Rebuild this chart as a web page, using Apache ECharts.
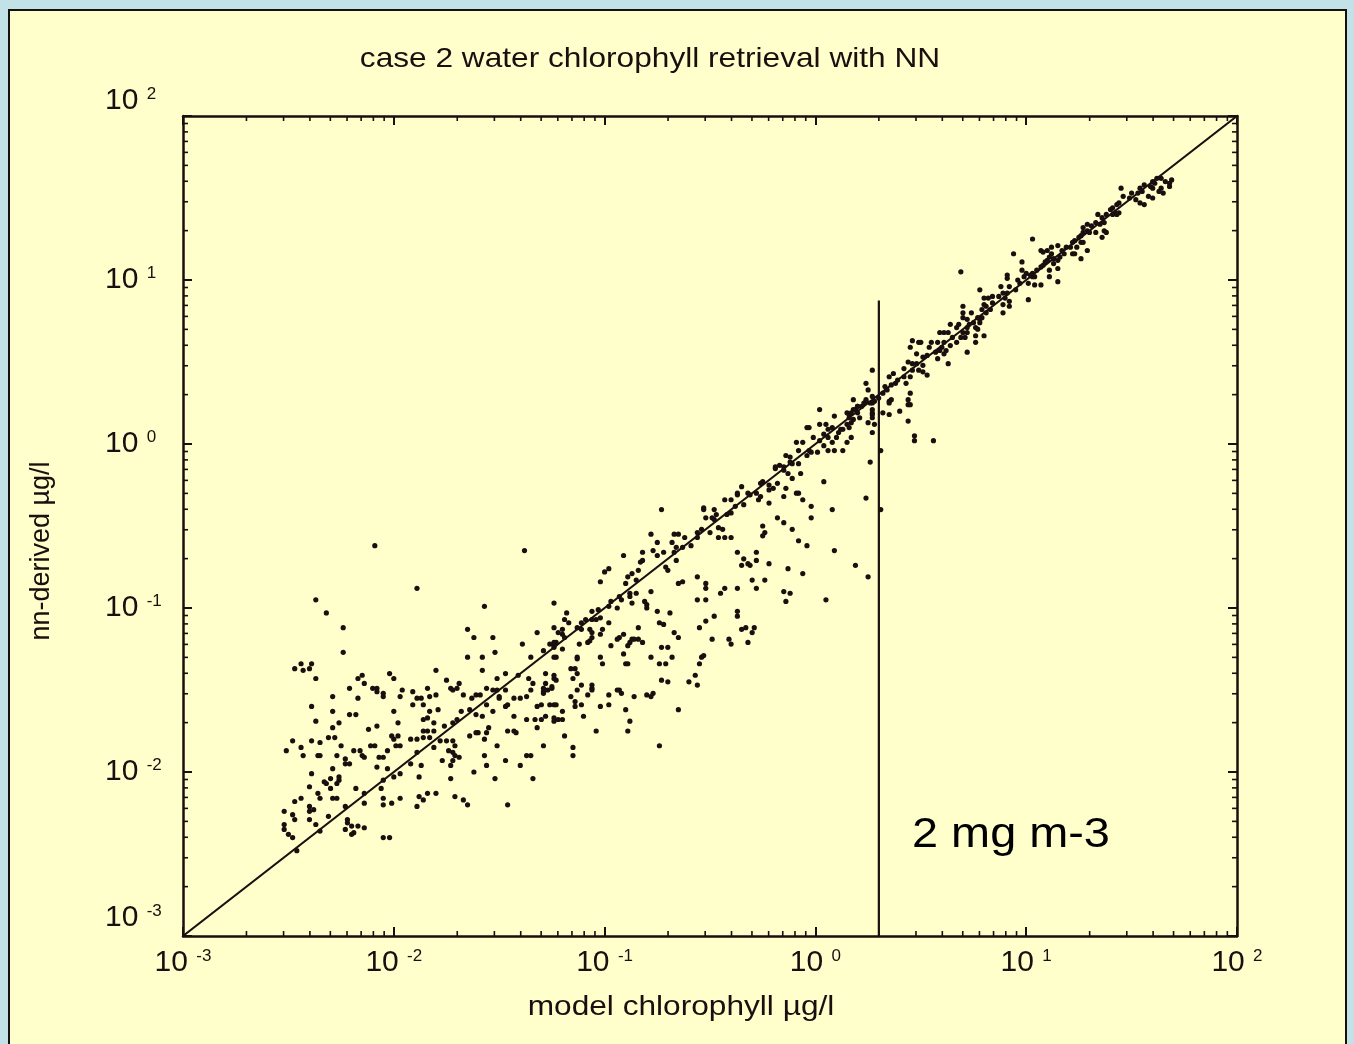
<!DOCTYPE html>
<html>
<head>
<meta charset="utf-8">
<script src="https://cdn.jsdelivr.net/npm/echarts@6/dist/echarts.min.js"></script>
<style>
html,body{margin:0;padding:0;background:#c2e2e8;}
#c{width:1354px;height:1044px;}
</style>
</head>
<body>
<div id="c"></div>
<script>
// ---------- texts ----------
const titleText = 'case 2 water chlorophyll retrieval with NN';
const xAxisName = 'model chlorophyll µg/l';
const yAxisName = 'nn-derived µg/l';
const annotationText = '2 mg m-3';

// ---------- axes ----------
const axisMin = 0.001;
const axisMax = 100;
const decadeExponents = ['-3', '-2', '-1', '0', '1', '2'];
const minorTickValues = [
  0.002, 0.003, 0.004, 0.005, 0.006, 0.007, 0.008, 0.009,
  0.02, 0.03, 0.04, 0.05, 0.06, 0.07, 0.08, 0.09,
  0.2, 0.3, 0.4, 0.5, 0.6, 0.7, 0.8, 0.9,
  2, 3, 4, 5, 6, 7, 8, 9,
  20, 30, 40, 50, 60, 70, 80, 90
];

// ---------- reference lines ----------
const identityLine = [[0.001, 0.001], [100, 100]];
const thresholdLine = [[2, 0.001], [2, 7.5]];

// ---------- data: [log10(model chl), log10(nn-derived chl)] ----------
const lowCloudLog = [
[-2.37,-0.95],[-2.32,-1.03],[-2.24,-1.12],[-2.24,-1.27],[-1.57,-0.99],[-1.24,-0.97],
[-2.44,-1.34],[-2.39,-1.34],[-2.47,-1.37],[-2.43,-1.38],[-2.40,-1.37],[-2.37,-1.43],
[-1.65,-1.13],[-1.62,-1.18],[-1.53,-1.18],[-1.52,-1.27],[-1.65,-1.30],[-1.58,-1.30],[-1.58,-1.38],
[-1.39,-1.22],[-1.32,-1.15],[-1.24,-1.12],[-1.24,-1.21],[-1.26,-1.22],[-1.29,-1.26],[-1.35,-1.30],
[-1.80,-1.38],[-2.02,-1.40],[-2.00,-1.43],[-2.15,-1.41],[-2.17,-1.43],[-2.21,-1.49],[-2.14,-1.46],
[-2.10,-1.49],[-2.08,-1.49],[-2.08,-1.51],[-2.05,-1.52],[-2.05,-1.54],[-1.96,-1.50],[-1.91,-1.51],
[-1.97,-1.54],[-2.29,-1.54],[-2.17,-1.55],[-1.89,-1.55],[-1.87,-1.55],[-1.91,-1.59],[-1.86,-1.59],
[-1.83,-1.54],[-1.80,-1.53],[-1.84,-1.49],[-1.73,-1.49],[-1.72,-1.50],[-1.75,-1.44],[-1.69,-1.46],
[-1.70,-1.49],[-1.67,-1.53],[-1.63,-1.55],[-1.61,-1.53],[-1.59,-1.53],[-1.56,-1.49],[-1.51,-1.43],
[-1.47,-1.40],[-1.41,-1.41],[-1.51,-1.50],[-1.50,-1.54],[-1.53,-1.50],[-1.47,-1.50],[-1.43,-1.55],
[-1.40,-1.55],[-1.37,-1.54],[-1.34,-1.46],[-1.36,-1.43],[-1.35,-1.50],[-1.29,-1.49],[-1.28,-1.46],
[-1.25,-1.49],[-1.24,-1.43],[-1.28,-1.40],[-1.32,-1.60],[-1.29,-1.51],[-1.26,-1.59],[-1.24,-1.59],
[-1.30,-1.59],[-1.24,-1.67],[-1.28,-1.66],[-1.33,-1.68],[-1.37,-1.68],[-1.43,-1.66],[-1.47,-1.60],
[-1.46,-1.59],[-1.50,-1.55],[-1.53,-1.63],[-1.56,-1.59],[-1.58,-1.66],[-1.61,-1.65],[-1.64,-1.62],
[-1.68,-1.63],[-1.70,-1.68],[-1.76,-1.72],[-1.72,-1.70],[-1.79,-1.62],[-1.83,-1.63],[-1.84,-1.67],
[-1.86,-1.68],[-1.81,-1.70],[-1.86,-1.75],[-1.84,-1.75],[-1.81,-1.75],[-1.86,-1.79],[-1.83,-1.79],
[-1.81,-1.85],[-1.78,-1.81],[-1.75,-1.81],[-1.72,-1.81],[-1.74,-1.87],[-1.72,-1.88],[-1.71,-1.90],
[-1.69,-1.91],[-1.72,-1.93],[-1.73,-1.96],[-1.77,-1.93],[-1.89,-1.88],[-1.92,-1.95],[-1.97,-1.84],
[-2.00,-1.80],[-1.98,-1.78],[-2.01,-1.78],[-1.99,-1.84],[-2.03,-1.87],[-2.05,-1.91],[-2.07,-1.91],
[-2.08,-1.97],[-2.11,-1.84],[-2.09,-1.84],[-2.12,-1.74],[-2.08,-1.72],[-2.00,-1.63],[-1.98,-1.70],
[-1.89,-1.80],[-1.92,-1.80],[-1.87,-1.96],[-1.97,-2.01],[-2.00,-2.03],[-2.03,-1.98],[-2.05,-2.05],
[-2.06,-2.10],[-2.01,-2.19],[-2.05,-2.20],[-2.05,-2.16],[-1.97,-2.16],[-1.89,-2.21],[-1.86,-2.17],
[-1.84,-2.13],[-1.88,-2.03],[-1.80,-2.13],[-1.73,-2.04],[-1.71,-2.15],[-1.67,-2.17],[-1.65,-2.20],
[-1.62,-2.00],[-1.56,-1.96],[-1.57,-1.90],[-1.52,-2.04],[-1.47,-1.93],[-1.46,-2.20],[-1.40,-1.96],
[-1.37,-1.90],[-1.35,-1.90],[-1.34,-2.04],[-1.29,-1.84],[-1.32,-1.73],[-1.46,-1.75],[-1.43,-1.75],
[-1.42,-1.76],[-1.55,-1.73],[-1.56,-1.76],[-1.60,-1.76],[-1.61,-1.76],[-1.64,-1.78],[-1.57,-1.80],
[-1.51,-1.84],[-1.71,-1.84],[-2.16,-1.87],[-2.19,-1.87],[-2.15,-1.90],[-2.14,-1.91],[-2.27,-1.90],
[-2.36,-1.90],[-2.35,-1.90],[-2.43,-1.90],[-2.51,-1.87],[-2.48,-1.81],[-2.44,-1.85],[-2.39,-1.81],
[-2.35,-1.82],[-2.31,-1.79],[-2.28,-1.79],[-2.25,-1.84],[-2.26,-1.70],[-2.29,-1.73],[-2.37,-1.69],
[-2.39,-1.60],[-2.29,-1.63],[-2.21,-1.65],[-2.18,-1.65],[-2.23,-1.92],[-2.21,-1.95],[-2.23,-1.95],
[-2.29,-1.98],[-2.39,-2.01],[-2.26,-2.03],[-2.26,-2.05],[-2.27,-2.07],[-2.30,-2.04],[-2.33,-2.06],
[-2.32,-2.07],[-2.40,-2.09],[-2.30,-2.10],[-2.36,-2.13],[-2.35,-2.16],[-2.29,-2.16],[-2.27,-2.16],
[-2.44,-2.16],[-2.47,-2.18],[-2.40,-2.21],[-2.40,-2.24],[-2.38,-2.23],[-2.52,-2.24],[-2.48,-2.26],
[-2.47,-2.29],[-2.40,-2.29],[-2.31,-2.27],[-2.23,-2.21],[-2.18,-2.10],[-2.14,-2.13],[-2.14,-2.19],
[-2.22,-2.29],[-2.22,-2.31],[-2.20,-2.33],[-2.17,-2.33],[-2.19,-2.37],[-2.20,-2.38],[-2.23,-2.35],
[-2.14,-2.34],[-2.35,-2.36],[-2.37,-2.32],[-2.52,-2.32],[-2.52,-2.35],[-2.50,-2.38],[-2.48,-2.40],
[-2.05,-2.40],[-2.02,-2.40],[-1.88,-2.15],
[-2.46,-2.48],[-2.09,-0.62],[-1.38,-0.65],[-1.89,-0.88]
];

const midCloudLog = [
[0.02,0.21],[0.09,0.17],[0.15,0.19],[0.18,0.21],[0.20,0.23],[0.24,0.26],[0.27,0.25],[0.28,0.26],
[0.35,0.26],[0.44,0.24],[0.35,0.18],[0.40,0.20],[0.44,0.14],[0.47,0.05],[0.47,0.02],[0.56,0.02],
[0.27,0.18],[0.25,0.13],[0.28,0.12],[0.27,0.07],[0.31,-0.04],[0.26,-0.11],[0.24,-0.33],[0.31,-0.40],
[0.19,-0.74],[0.25,-0.81],[0.09,-0.65],[0.08,-0.40],[0.04,-0.23],[0.05,-0.95],
[0.16,0.18],[0.17,0.13],[0.16,0.10],[0.15,0.12],[0.13,0.09],[0.11,0.07],[0.12,0.09],[0.08,0.10],
[0.05,0.12],[0.02,0.12],[0.06,0.09],[0.04,0.06],[0.06,0.04],[0.08,0.01],[0.10,0.04],[0.15,0.01],
[0.13,-0.04],[0.09,-0.04],[0.06,-0.04],[0.04,-0.01],[0.02,0.02],[-0.01,0.04],[-0.03,0.10],[-0.04,0.10],
[-0.03,-0.04],[-0.04,-0.07],[-0.02,-0.05],[0.01,-0.05],[-0.08,-0.04],[-0.09,0.01],[-0.06,0.01],
[-0.12,-0.08],[-0.14,-0.07],[-0.12,-0.11],[-0.11,-0.12],[-0.08,-0.12],[-0.15,-0.14],[-0.17,-0.13],
[-0.19,-0.14],[-0.19,-0.15],[-0.15,-0.16],[-0.13,-0.18],[-0.11,-0.21],[-0.07,-0.18],[-0.25,-0.23],
[-0.26,-0.24],[-0.22,-0.25],[-0.20,-0.27],[-0.22,-0.28],[-0.18,-0.24],[-0.14,-0.27],[-0.09,-0.30],
[-0.08,-0.30],[-0.15,-0.32],[-0.06,-0.34],[-0.27,-0.34],[-0.26,-0.32],[-0.22,-0.36],[-0.28,-0.30],
[-0.31,-0.31],[-0.32,-0.30],[-0.35,-0.26],[-0.37,-0.31],[-0.37,-0.30],[-0.40,-0.34],[-0.34,-0.37],
[-0.38,-0.38],[-0.43,-0.34],[-0.47,-0.43],[-0.48,-0.46],[-0.49,-0.45],[-0.42,-0.43],[-0.40,-0.42],
[-0.53,-0.39],[-0.53,-0.40],[-0.52,-0.45],[-0.48,-0.40],[-0.46,-0.51],[-0.44,-0.52],[-0.43,-0.57],
[-0.40,-0.57],[-0.46,-0.57],[-0.50,-0.54],[-0.54,-0.52],[-0.56,-0.54],[-0.56,-0.57],[-0.59,-0.62],
[-0.62,-0.57],[-0.65,-0.55],[-0.67,-0.55],[-0.63,-0.63],[-0.66,-0.63],[-0.68,-0.60],[-0.67,-0.66],
[-0.66,-0.71],[-0.70,-0.77],[-0.71,-0.75],[-0.72,-0.66],[-0.75,-0.68],[-0.77,-0.65],[-0.75,-0.60],
[-0.78,-0.55],[-0.73,-0.40],[-0.82,-0.66],[-0.83,-0.72],[-0.82,-0.71],[-0.84,-0.77],[-0.87,-0.79],
[-0.85,-0.83],[-0.85,-0.91],[-0.89,-0.81],[-0.91,-0.68],[-0.90,-0.85],[-0.88,-0.91],[-0.88,-0.93],
[-0.87,-0.97],[-0.93,-0.93],[-0.92,-0.95],[-0.94,-1.00],[-0.97,-0.96],[-0.98,-0.99],[-1.00,-0.78],
[-0.98,-0.76],[-1.02,-0.84],[-1.03,-1.01],[-1.02,-1.06],[-1.04,-1.07],[-1.06,-1.07],[-1.06,-1.02],
[-1.09,-1.07],[-1.11,-1.09],[-1.13,-1.12],[-1.11,-1.13],[-1.07,-1.13],[-1.06,-1.15],[-1.06,-1.18],
[-1.08,-1.21],[-1.07,-1.20],[-1.02,-1.16],[-1.01,-1.13],[-0.98,-1.09],[-0.93,-1.18],[-0.91,-1.16],
[-0.94,-1.19],[-0.89,-1.23],[-0.88,-1.21],[-0.87,-1.19],[-0.86,-1.19],[-0.84,-1.19],[-0.82,-1.21],
[-0.84,-1.12],[-0.81,-0.96],[-0.80,-0.98],[-0.80,-1.00],[-0.91,-1.28],[-0.90,-1.34],[-0.89,-1.34],
[-0.93,-1.50],[-0.92,-1.52],[-0.86,-1.54],[-0.80,-1.53],[-0.78,-1.54],[-0.77,-1.52],[-0.78,-1.30],
[-0.74,-1.34],[-0.71,-1.34],[-0.73,-1.24],[-0.70,-1.24],[-0.74,-1.09],[-0.75,-1.02],[-0.72,-1.10],
[-0.69,-1.03],[-0.67,-1.15],[-0.65,-1.18],[-0.68,-1.30],[-0.73,-1.44],[-0.70,-1.45],[-0.60,-1.45],
[-0.57,-1.41],[-0.56,-1.47],[-0.55,-1.34],[-0.54,-1.30],[-0.53,-1.29],[-0.52,-1.08],[-0.55,-1.12],
[-0.49,-1.19],[-0.48,-1.05],[-0.41,-1.19],[-0.40,-1.22],[-0.37,-1.02],[-0.37,-1.05],[-0.35,-1.13],
[-0.33,-1.12],[-0.29,-1.12],[-0.30,-1.15],[-0.32,-1.21],[-0.25,-0.50],[-0.24,-0.54],[-0.25,-0.56],
[-0.22,-0.73],[-0.24,-0.83],[-0.28,-0.66],[-0.28,-0.71],[-0.30,-0.83],[-0.28,-0.88],[-0.34,-0.70],
[-0.35,-0.74],[-0.37,-0.66],[-0.32,-0.73],[-0.31,-0.74],[-0.37,-0.88],[-0.43,-0.88],[-0.45,-0.91],
[-0.52,-0.95],[-0.52,-0.85],[-0.52,-0.88],[-0.56,-0.81],[-0.56,-0.95],[-0.63,-0.84],[-0.65,-0.85],
[-0.78,-0.90],[-0.18,-0.45],[-0.15,-0.48],[-0.11,-0.52],[-0.08,-0.59],[-0.04,-0.62],[-0.02,-0.45],
[-0.02,-0.38],[-0.06,-0.79],[-0.13,-0.76],[-0.15,-0.90],[-0.12,-0.91],[-0.14,-0.96],
[-1.18,-1.03],[-1.19,-1.07],[-1.17,-1.09],[-1.20,-1.13],[-1.22,-1.15],[-1.20,-1.16],[-1.19,-1.18],
[-1.23,-1.21],[-1.24,-1.23],[-1.24,-1.24],[-1.20,-1.25],[-1.24,-1.30],[-1.23,-1.30],[-1.16,-1.37],
[-1.14,-1.37],[-1.13,-1.40],[-1.15,-1.43],[-1.24,-1.41],[-1.23,-1.44],[-1.25,-1.48],[-1.11,-1.47],
[-1.13,-1.50],[-1.06,-1.47],[-1.06,-1.49],[-1.08,-1.53],[-0.98,-1.53],[-1.16,-1.54],[-1.13,-1.30],
[-1.13,-1.31],[-1.12,-1.22],[-1.02,-1.30],[-1.01,-1.34],[-0.97,-1.23],
[-1.29,-1.52],[-1.27,-1.50],[-1.06,-1.50],[-0.94,-1.50],[-1.23,-1.59],[-1.14,-1.57],[-1.14,-1.60],
[-1.11,-1.59],[-1.02,-1.60],[-0.98,-1.59],[-0.90,-1.62],[-0.65,-1.62],[-1.20,-1.63],[-1.30,-1.68],
[-1.24,-1.69],[-1.22,-1.68],[-1.20,-1.68],[-1.10,-1.66],[-0.88,-1.69],[-1.04,-1.75],[-0.89,-1.75],
[-1.19,-1.78],[-1.15,-1.85],[-1.15,-1.90],[-0.74,-1.84]
];

const highBandLog = [
[1.69,1.61],[1.68,1.59],[1.66,1.60],[1.64,1.56],[1.62,1.62],[1.61,1.59],[1.60,1.60],[1.65,1.53],
[1.63,1.54],[1.59,1.57],[1.56,1.58],[1.54,1.56],[1.55,1.54],[1.58,1.51],[1.60,1.50],[1.53,1.53],
[1.50,1.53],[1.49,1.50],[1.52,1.49],[1.54,1.47],[1.56,1.46],[1.45,1.56],[1.46,1.51],[1.44,1.47],
[1.43,1.46],[1.41,1.44],[1.42,1.41],[1.44,1.41],[1.40,1.43],[1.41,1.40],[1.43,1.40],[1.38,1.40],
[1.36,1.38],[1.34,1.40],[1.37,1.35],[1.35,1.34],[1.33,1.35],[1.31,1.33],[1.29,1.34],[1.27,1.32],
[1.29,1.30],[1.30,1.29],[1.33,1.29],[1.37,1.30],[1.36,1.26],[1.27,1.29],[1.26,1.27],[1.25,1.26],
[1.23,1.24],[1.22,1.23],[1.26,1.23],[1.27,1.23],[1.24,1.20],[1.21,1.20],[1.19,1.20],[1.17,1.18],
[1.18,1.16],[1.22,1.16],[1.23,1.16],[1.26,1.13],[1.29,1.18],[1.16,1.14],[1.15,1.12],[1.13,1.13],
[1.11,1.14],[1.12,1.16],[1.10,1.18],[1.08,1.17],[1.07,1.18],[1.12,1.20],[1.15,1.21],[1.10,1.12],
[1.09,1.11],[1.13,1.10],[1.15,1.07],[1.11,1.06],[1.08,1.09],[1.07,1.08],[1.05,1.06],[1.03,1.04],
[1.03,1.02],[1.04,1.02],[1.02,1.03],[1.00,1.04],[0.99,1.02],[0.98,1.06],[0.98,1.11],[1.03,1.25],
[0.94,1.16],[0.96,1.00],[0.97,0.98],[1.01,0.98],[1.04,0.97],[1.07,0.97],[1.11,1.02],[1.15,0.99],
[1.01,0.88],[0.91,1.03],[0.91,1.01],[0.92,0.96],[0.95,0.94],[0.91,0.92],[0.89,0.92],[0.88,0.96],
[0.87,0.90],[0.90,0.89],[0.92,0.87],[0.92,0.84],[0.89,0.85],[0.89,0.80],[0.84,0.90],[0.82,0.89],
[0.80,0.89],[0.78,0.94],[0.84,0.86],[0.81,0.84],[0.80,0.85],[0.79,0.82],[0.83,0.82],[0.81,0.80],
[0.79,0.77],[0.78,0.76],[0.77,0.77],[0.75,0.74],[0.78,0.74],[0.76,0.71],[0.77,0.70],[0.73,0.73],
[0.72,0.71],[0.70,0.80],[0.70,0.77],[0.72,0.76],[0.70,0.84],[0.74,0.80],[0.72,0.68],[0.70,0.68],
[0.68,0.73],[0.67,0.71],[0.64,0.73],[0.69,0.65],[0.71,0.65],[0.76,0.66],[0.80,0.66],[0.76,0.62],
[0.72,0.56],[0.67,0.62],[0.65,0.65],[0.63,0.68],[0.61,0.68],[0.59,0.68],[0.61,0.62],[0.64,0.60],
[0.62,0.57],[0.60,0.59],[0.58,0.62],[0.59,0.57],[0.55,0.62],[0.54,0.59],[0.57,0.56],[0.58,0.52],
[0.61,0.55],[0.63,0.49],[0.53,0.54],[0.51,0.53],[0.48,0.55],[0.49,0.62],[0.50,0.62],[0.46,0.63],
[0.45,0.59],[0.44,0.50],[0.46,0.49],[0.48,0.49],[0.42,0.46],[0.46,0.45],[0.49,0.45],[0.51,0.44],
[0.53,0.42],[0.51,0.48],[0.45,0.41],[0.42,0.41],[0.43,0.37],[0.37,0.43],[0.35,0.41],[0.38,0.37],
[0.39,0.39],[0.36,0.36],[0.33,0.35],[0.34,0.33],[0.32,0.31],[0.30,0.28],[0.27,0.29],[0.25,0.33],
[0.24,0.37],[0.27,0.45],[0.26,0.25],[0.24,0.27],[0.23,0.25],[0.22,0.23],[0.20,0.23],[0.18,0.27],
[0.19,0.21],[0.20,0.19],[0.17,0.19],[0.16,0.16],[0.18,0.15],[0.21,0.16],[0.27,0.16],[0.27,0.21],
[0.32,0.19],[0.36,0.27],[0.35,0.25],[0.45,0.31],[0.44,0.27],[0.45,0.24],[0.27,0.19],[0.17,0.04],
[0.69,1.05],[1.38,1.29],[1.68,1.57],[1.64,1.62],[1.60,1.56]
];

// ---------- build ----------
const ink = '#1a0e0e';
const fontFamily = '"Liberation Sans", Arial, Helvetica, sans-serif';
const fromLog = arr => arr.map(p => [Math.pow(10, p[0]), Math.pow(10, p[1])]);
const points = fromLog(lowCloudLog).concat(fromLog(midCloudLog), fromLog(highBandLog));

const labelRich = {
  b: { fontSize: 30, lineHeight: 30, fontFamily: fontFamily, color: ink, verticalAlign: 'top' },
  e: { fontSize: 17, lineHeight: 17, fontFamily: fontFamily, color: ink, verticalAlign: 'top' },
  s2: { fontSize: 2, lineHeight: 30 },
  s3: { fontSize: 2, lineHeight: 36 }
};
function expIndex(v) {
  return Math.round(Math.log10(v)) + 3;
}
function xLabel(v) {
  const e = decadeExponents[expIndex(v)];
  return '{b|10 }{e|' + e + '}';
}
function yLabel(v) {
  const i = expIndex(v);
  let s = '{b|10 }{e|' + decadeExponents[i] + '}';
  if (i === decadeExponents.length - 1) s += '\n{s2| }';
  if (i === 0) s += '\n{s3| }';
  return s;
}

function axisBase(extra) {
  return Object.assign({
    type: 'log',
    logBase: 10,
    min: axisMin,
    max: axisMax,
    splitNumber: 5,
    axisLine: { show: true, onZero: false, lineStyle: { color: ink, width: 2.5 } },
    axisTick: { show: true, inside: true, length: 9, lineStyle: { color: ink, width: 2 } },
    splitLine: { show: false },
    minorTick: { show: false },
    minorSplitLine: { show: false }
  }, extra);
}

const chart = echarts.init(document.getElementById('c'), null, { renderer: 'canvas' });
chart.setOption({
  animation: false,
  backgroundColor: '#c2e2e8',
  grid: { left: 183, top: 116, width: 1054, height: 820, containLabel: false, outerBoundsMode: 'none' },
  xAxis: [
    axisBase({
      position: 'bottom',
      axisLabel: { show: true, margin: 12, formatter: xLabel, rich: labelRich, showMinLabel: true, showMaxLabel: true, hideOverlap: false }
    }),
    axisBase({ position: 'top', axisLabel: { show: false } })
  ],
  yAxis: [
    axisBase({
      position: 'left',
      axisLabel: { show: true, margin: 78, align: 'left', formatter: yLabel, rich: labelRich, showMinLabel: true, showMaxLabel: true, hideOverlap: false }
    }),
    axisBase({ position: 'right', axisLabel: { show: false } })
  ],
  graphic: [
    {
      type: 'rect', z: -100, silent: true,
      shape: { x: 9, y: 10, width: 1337, height: 1045 },
      style: { fill: '#ffffcc', stroke: '#161010', lineWidth: 2 }
    },
    {
      type: 'text', z: 100, x: 650, y: 59, scaleX: 1.13, silent: true,
      style: { text: titleText, font: '28px ' + fontFamily, fill: ink, textAlign: 'center', textVerticalAlign: 'middle', align: 'center', verticalAlign: 'middle' }
    },
    {
      type: 'text', z: 100, x: 681, y: 1007, scaleX: 1.13, silent: true,
      style: { text: xAxisName, font: '28px ' + fontFamily, fill: ink, textAlign: 'center', textVerticalAlign: 'middle', align: 'center', verticalAlign: 'middle' }
    },
    {
      type: 'text', z: 100, x: 42, y: 551, rotation: Math.PI / 2, silent: true,
      style: { text: yAxisName, font: '27px ' + fontFamily, fill: ink, textAlign: 'center', textVerticalAlign: 'middle', align: 'center', verticalAlign: 'middle' }
    },
    {
      type: 'text', z: 100, x: 912, y: 835, scaleX: 1.09, silent: true,
      style: { text: annotationText, font: '43px ' + fontFamily, fill: '#000000', textAlign: 'left', textVerticalAlign: 'middle', align: 'left', verticalAlign: 'middle' }
    }
  ],
  series: [
    {
      type: 'custom',
      silent: true,
      z: 4,
      data: minorTickValues.map(v => [v, 1]),
      encode: { x: 0, y: 1 },
      renderItem: function (params, api) {
        const v = api.value(0);
        const b = api.coord([v, axisMin]);
        const t = api.coord([v, axisMax]);
        return {
          type: 'group',
          children: [
            { type: 'line', shape: { x1: b[0], y1: b[1], x2: b[0], y2: b[1] - 5 }, style: { stroke: ink, lineWidth: 1.6 } },
            { type: 'line', shape: { x1: t[0], y1: t[1], x2: t[0], y2: t[1] + 5 }, style: { stroke: ink, lineWidth: 1.6 } }
          ]
        };
      }
    },
    {
      type: 'custom',
      silent: true,
      z: 4,
      data: minorTickValues.map(v => [1, v]),
      encode: { x: 0, y: 1 },
      renderItem: function (params, api) {
        const v = api.value(1);
        const l = api.coord([axisMin, v]);
        const r = api.coord([axisMax, v]);
        return {
          type: 'group',
          children: [
            { type: 'line', shape: { x1: l[0], y1: l[1], x2: l[0] + 5, y2: l[1] }, style: { stroke: ink, lineWidth: 1.6 } },
            { type: 'line', shape: { x1: r[0], y1: r[1], x2: r[0] - 5, y2: r[1] }, style: { stroke: ink, lineWidth: 1.6 } }
          ]
        };
      }
    },
    {
      type: 'line',
      data: identityLine,
      symbol: 'none',
      silent: true,
      z: 3,
      lineStyle: { color: ink, width: 2.2 }
    },
    {
      type: 'line',
      data: thresholdLine,
      symbol: 'none',
      silent: true,
      z: 3,
      lineStyle: { color: ink, width: 2.2 }
    },
    {
      type: 'scatter',
      data: points,
      symbol: 'circle',
      symbolSize: 5.2,
      silent: true,
      z: 5,
      itemStyle: { color: ink, opacity: 1 }
    }
  ]
});
</script>
</body>
</html>
